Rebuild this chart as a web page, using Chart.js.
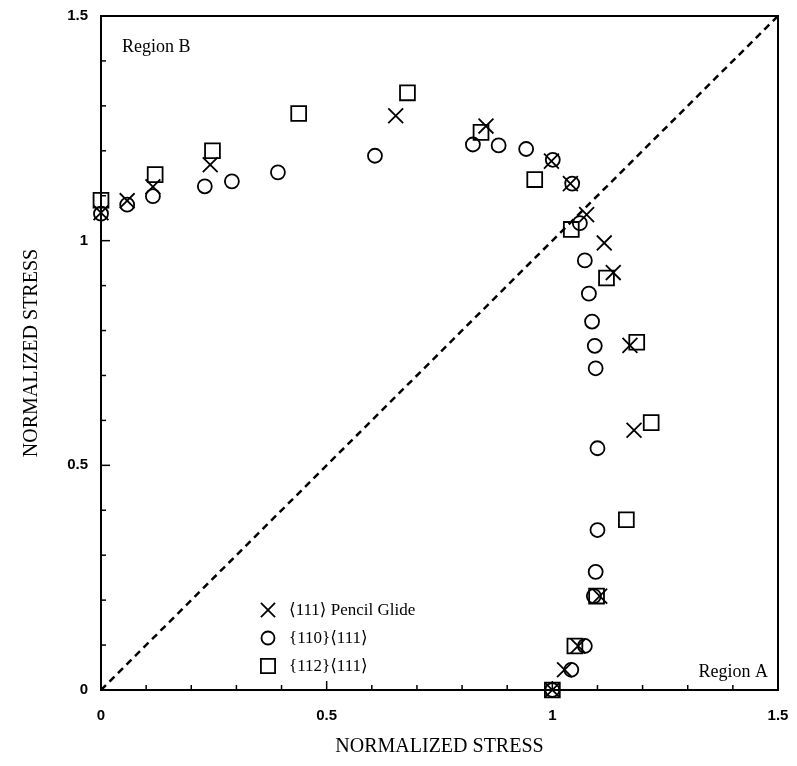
<!DOCTYPE html>
<html>
<head>
<meta charset="utf-8">
<script src="https://cdn.jsdelivr.net/npm/chart.js@4/dist/chart.umd.min.js"></script>
<style>
  html, body { margin: 0; padding: 0; background: #fff; }
  #wrap { width: 797px; height: 766px; }
</style>
</head>
<body>
<div id="wrap"><canvas id="stress" width="797" height="766"></canvas></div>
<script>
// data -----------------------------------------
const pencilX = [0, 0.058, 0.115, 0.242, 0.653, 0.853, 0.998, 1.04, 1.076, 1.115, 1.135, 1.172, 1.181, 1.105, 1.057, 1.027, 1.0];
const pencilY = [1.062, 1.089, 1.12, 1.169, 1.278, 1.255, 1.177, 1.127, 1.058, 0.995, 0.929, 0.767, 0.578, 0.209, 0.098, 0.045, 0];

const circleX = [0, 0.058, 0.115, 0.23, 0.29, 0.392, 0.607, 0.824, 0.881, 0.942, 1.001, 1.044, 1.061, 1.072, 1.081, 1.088, 1.094, 1.096, 1.1, 1.1, 1.096, 1.092, 1.072, 1.042, 1.0];
const circleY = [1.06, 1.08, 1.099, 1.121, 1.132, 1.152, 1.189, 1.214, 1.212, 1.204, 1.18, 1.127, 1.039, 0.956, 0.882, 0.82, 0.766, 0.716, 0.538, 0.356, 0.263, 0.209, 0.098, 0.045, 0];

const squareX = [0, 0.12, 0.247, 0.438, 0.679, 0.842, 0.961, 1.042, 1.12, 1.187, 1.219, 1.164, 1.098, 1.05, 1.0];
const squareY = [1.09, 1.147, 1.2, 1.283, 1.329, 1.241, 1.136, 1.025, 0.917, 0.774, 0.595, 0.379, 0.209, 0.098, 0];

const diagX = [0, 1.5];
const diagY = [0, 1.5];

const seriesLabels = ["\u27E8111\u27E9 Pencil Glide", "{110}\u27E8111\u27E9", "{112}\u27E8111\u27E9"];
const axisTitle = "NORMALIZED STRESS";
const regionLabels = ["Region B", "Region A"];

function pts(xs, ys) {
  return xs.map((x, i) => ({ x: x, y: ys[i] }));
}

const serif = "'Liberation Serif', 'DejaVu Serif', serif";
const sans = "'Liberation Sans', Arial, sans-serif";

// inward ticks, frame, region labels and legend
const decor = {
  id: "decor",
  afterDraw(chart) {
    const ctx = chart.ctx;
    const a = chart.chartArea;
    ctx.save();
    ctx.strokeStyle = "#000";
    ctx.lineWidth = 2;
    ctx.strokeRect(a.left, a.top, a.right - a.left, a.bottom - a.top);

    ctx.lineWidth = 1.5;
    const isMajor = v => Math.abs(v * 2 - Math.round(v * 2)) < 1e-6;
    chart.scales.x.ticks.forEach(t => {
      const px = chart.scales.x.getPixelForValue(t.value);
      const len = isMajor(t.value) ? 9 : 5;
      ctx.beginPath();
      ctx.moveTo(px, a.bottom);
      ctx.lineTo(px, a.bottom - len);
      ctx.stroke();
    });
    chart.scales.y.ticks.forEach(t => {
      const py = chart.scales.y.getPixelForValue(t.value);
      const len = isMajor(t.value) ? 9 : 5;
      ctx.beginPath();
      ctx.moveTo(a.left, py);
      ctx.lineTo(a.left + len, py);
      ctx.stroke();
    });

    ctx.fillStyle = "#000";
    ctx.font = "18px " + serif;
    ctx.textBaseline = "middle";
    ctx.textAlign = "left";
    ctx.fillText(regionLabels[0], a.left + 21, 47);
    ctx.textAlign = "right";
    ctx.fillText(regionLabels[1], a.right - 10, 672);

    // legend
    const lx = chart.scales.x.getPixelForValue(0.37);
    const rows = [610, 638, 666];
    ctx.font = "17px " + serif;
    ctx.textAlign = "left";
    chart.data.datasets.slice(0, 3).forEach((ds, i) => {
      ctx.fillStyle = "rgba(255,255,255,0)";
      ctx.strokeStyle = "#000";
      ctx.lineWidth = 1.8;
      Chart.helpers.drawPoint(ctx, {
        pointStyle: ds.pointStyle,
        radius: ds.legendRadius,
        borderWidth: 1.8,
        rotation: 0
      }, lx, rows[i]);
      ctx.fillStyle = "#000";
      ctx.fillText(ds.label, lx + 21, rows[i] + 1);
    });
    ctx.restore();
  }
};

const markerBase = {
  type: "scatter",
  showLine: false,
  borderColor: "#000",
  backgroundColor: "rgba(255,255,255,0)",
  pointBorderWidth: 1.8,
  clip: false
};

const data = {
  datasets: [
    Object.assign({}, markerBase, {
      label: seriesLabels[0],
      data: pts(pencilX, pencilY),
      pointStyle: "crossRot",
      pointRadius: 10.5,
      legendRadius: 10
    }),
    Object.assign({}, markerBase, {
      label: seriesLabels[1],
      data: pts(circleX, circleY),
      pointStyle: "circle",
      pointRadius: 7,
      legendRadius: 6.5
    }),
    Object.assign({}, markerBase, {
      label: seriesLabels[2],
      data: pts(squareX, squareY),
      pointStyle: "rect",
      pointRadius: 10.5,
      legendRadius: 10
    }),
    {
      type: "line",
      label: "diagonal",
      data: pts(diagX, diagY),
      borderColor: "#000",
      borderWidth: 2.5,
      borderDash: [7, 5],
      pointRadius: 0,
      fill: false
    }
  ]
};

const config = {
  type: "scatter",
  data: data,
  options: {
    responsive: false,
    animation: false,
    layout: { padding: { top: 16, right: 19, left: 0, bottom: 0 } },
    plugins: { legend: { display: false }, tooltip: { enabled: false } },
    scales: {
      x: {
        type: "linear",
        min: 0,
        max: 1.5,
        grid: { display: false, drawTicks: false },
        border: { display: false },
        ticks: {
          stepSize: 0.1,
          padding: 17,
          color: "#000",
          font: { family: sans, size: 15, weight: "bold" },
          callback: v => (Math.abs(v * 2 - Math.round(v * 2)) < 1e-6 ? String(Math.round(v * 2) / 2) : "")
        },
        title: {
          display: true,
          text: axisTitle,
          color: "#000",
          font: { family: serif, size: 20 },
          padding: { top: 0, bottom: 7 }
        },
        afterFit: s => { s.height = 76; s.paddingLeft = 0; s.paddingRight = 0; }
      },
      y: {
        type: "linear",
        min: 0,
        max: 1.5,
        grid: { display: false, drawTicks: false },
        border: { display: false },
        ticks: {
          stepSize: 0.1,
          padding: 13,
          color: "#000",
          font: { family: sans, size: 15, weight: "bold" },
          callback: v => (Math.abs(v * 2 - Math.round(v * 2)) < 1e-6 ? String(Math.round(v * 2) / 2) : "")
        },
        title: {
          display: true,
          text: axisTitle,
          color: "#000",
          font: { family: serif, size: 20 },
          padding: { top: 20, bottom: 0 }
        },
        afterFit: s => { s.width = 101; s.paddingTop = 0; s.paddingBottom = 0; }
      }
    }
  },
  plugins: [decor]
};

const stressChart = new Chart(document.getElementById("stress"), config);
</script>
</body>
</html>
